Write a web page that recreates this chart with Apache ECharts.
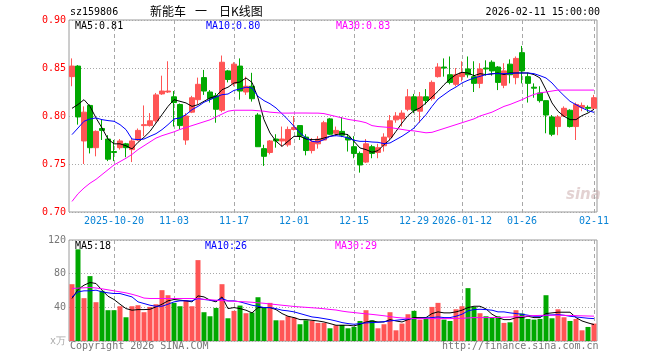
<!DOCTYPE html>
<html><head><meta charset="utf-8">
<script src="https://cdn.jsdelivr.net/npm/echarts/dist/echarts.min.js"></script>
<style>html,body{margin:0;padding:0;background:#fff}#c{width:660px;height:360px}</style>
</head><body><div id="c"></div><script>
const dates = ['10-09','10-10','10-13','10-14','10-15','10-16','10-17','10-20','10-21','10-22','10-23','10-24','10-27','10-28','10-29','10-30','10-31',
'11-03','11-04','11-05','11-06','11-07','11-10','11-11','11-12','11-13','11-14','11-17','11-18','11-19','11-20','11-21','11-24','11-25','11-26','11-27','11-28',
'12-01','12-02','12-03','12-04','12-05','12-08','12-09','12-10','12-11','12-12','12-15','12-16','12-17','12-18','12-19','12-22','12-23','12-24','12-25','12-26','12-29','12-30','12-31',
'01-05','01-06','01-07','01-08','01-09','01-12','01-13','01-14','01-15','01-16','01-19','01-20','01-21','01-22','01-23','01-26','01-27','01-28','01-29','01-30',
'02-02','02-03','02-04','02-05','02-06','02-09','02-10','02-11'];
const tickDates = ['10-20','11-03','11-17','12-01','12-15','12-29','01-12','01-26','02-11'];
const tickLabels = ['2025-10-20','11-03','11-17','12-01','12-15','12-29','2026-01-12','01-26','02-11'];

const open = [0.841,0.852,0.774,0.811,0.767,0.787,0.776,0.763,0.767,0.771,
0.765,0.775,0.790,0.790,0.795,0.823,0.825,0.820,0.812,0.775,
0.804,0.817,0.840,0.825,0.821,0.806,0.847,0.834,0.852,0.825,
0.831,0.801,0.766,0.762,0.776,0.774,0.770,0.786,0.790,0.778,
0.764,0.771,0.775,0.797,0.782,0.784,0.778,0.768,0.761,0.752,
0.768,0.762,0.769,0.778,0.796,0.797,0.807,0.820,0.805,0.820,
0.818,0.841,0.851,0.843,0.833,0.841,0.849,0.841,0.834,0.850,
0.856,0.851,0.832,0.854,0.840,0.866,0.841,0.830,0.824,0.816,
0.799,0.789,0.800,0.806,0.789,0.809,0.809,0.808];
const close = [0.852,0.799,0.804,0.767,0.784,0.785,0.755,0.762,0.774,0.767,
0.774,0.785,0.791,0.795,0.822,0.826,0.826,0.814,0.790,0.800,
0.819,0.833,0.826,0.818,0.807,0.856,0.838,0.854,0.826,0.831,
0.818,0.768,0.758,0.774,0.774,0.776,0.786,0.788,0.779,0.764,
0.773,0.776,0.793,0.781,0.785,0.780,0.775,0.761,0.749,0.771,
0.761,0.767,0.778,0.795,0.800,0.803,0.820,0.806,0.820,0.816,
0.835,0.851,0.850,0.835,0.843,0.845,0.843,0.834,0.849,0.849,
0.847,0.835,0.847,0.843,0.860,0.847,0.834,0.829,0.816,0.801,
0.781,0.799,0.808,0.789,0.812,0.811,0.808,0.819];
const low = [0.831,0.791,0.750,0.761,0.758,0.775,0.753,0.753,0.765,0.757,
0.752,0.774,0.779,0.789,0.793,0.822,0.824,0.789,0.786,0.770,
0.803,0.812,0.822,0.814,0.793,0.804,0.835,0.831,0.817,0.822,
0.815,0.768,0.748,0.760,0.767,0.768,0.768,0.785,0.775,0.759,
0.761,0.766,0.775,0.780,0.779,0.778,0.763,0.756,0.741,0.751,
0.756,0.756,0.763,0.775,0.793,0.789,0.805,0.803,0.793,0.812,
0.816,0.840,0.841,0.833,0.831,0.836,0.840,0.825,0.829,0.842,
0.842,0.827,0.829,0.834,0.833,0.834,0.814,0.819,0.814,0.782,
0.779,0.780,0.799,0.788,0.775,0.805,0.804,0.807];
const high = [0.860,0.853,0.810,0.812,0.785,0.796,0.780,0.775,0.776,0.772,
0.777,0.787,0.811,0.803,0.824,0.842,0.857,0.826,0.813,0.803,
0.821,0.840,0.848,0.827,0.824,0.863,0.848,0.856,0.860,0.841,
0.845,0.803,0.770,0.775,0.781,0.789,0.789,0.800,0.790,0.781,
0.777,0.779,0.795,0.798,0.789,0.799,0.781,0.779,0.763,0.776,
0.770,0.771,0.782,0.801,0.804,0.806,0.828,0.823,0.825,0.828,
0.837,0.855,0.860,0.862,0.850,0.857,0.862,0.857,0.855,0.858,
0.858,0.852,0.855,0.859,0.862,0.873,0.845,0.834,0.831,0.816,
0.801,0.801,0.810,0.807,0.814,0.814,0.811,0.822];

const ma5 = [0.808,0.812,0.817,0.810,0.798,0.7875,0.776,0.771,0.771,0.769,
0.7657,0.7726,0.7778,0.784,0.7927,0.8014,0.810,0.817,0.8153,0.8136,
0.810,0.8118,0.8153,0.8188,0.8205,0.8274,0.830,0.8344,0.8354,0.8396,
0.835,0.8188,0.7962,0.7823,0.7737,0.7684,0.7736,0.7788,0.7788,0.776,
0.7754,0.7754,0.7771,0.7788,0.7806,0.7816,0.7806,0.7736,0.7667,0.765,
0.7622,0.7639,0.7702,0.7754,0.784,0.7927,0.8004,0.8056,0.8084,0.8136,
0.8198,0.8257,0.8326,0.8385,0.8431,0.8455,0.8448,0.842,0.8441,0.8431,
0.8438,0.8448,0.8431,0.8448,0.8448,0.8448,0.8448,0.8431,0.8396,0.8274,
0.8136,0.8049,0.7997,0.7962,0.7962,0.8004,0.8031,0.807];
const ma10 = [0.7806,0.7875,0.7945,0.7969,0.798,0.7962,0.7952,0.7945,0.791,0.7858,
0.776,0.7754,0.776,0.7789,0.7816,0.7858,0.791,0.7969,0.798,0.8014,
0.8066,0.810,0.8143,0.817,0.8198,0.8222,0.8229,0.8267,0.8281,0.830,
0.8292,0.8205,0.816,0.8128,0.8084,0.8024,0.7962,0.7892,0.7823,0.7771,
0.7736,0.7729,0.7754,0.7788,0.7795,0.7788,0.7771,0.7747,0.7736,0.7736,
0.7729,0.7726,0.7712,0.7719,0.7754,0.7789,0.783,0.7875,0.7945,0.8014,
0.810,0.8177,0.8222,0.8267,0.8302,0.8344,0.8372,0.8396,0.8413,0.8431,
0.8441,0.8441,0.8441,0.8441,0.8448,0.8448,0.8448,0.8441,0.842,0.8396,
0.8344,0.8274,0.8212,0.8153,0.8118,0.8084,0.8056,0.8038];
const ma30 = [0.711,0.719,0.725,0.730,0.734,0.739,0.744,0.749,0.7525,0.756,
0.760,0.765,0.769,0.773,0.777,0.7795,0.7815,0.7835,0.786,0.788,
0.790,0.792,0.794,0.796,0.799,0.802,0.805,0.806,0.806,0.806,
0.806,0.8055,0.805,0.804,0.8035,0.803,0.803,0.8031,0.8031,0.8031,
0.803,0.803,0.8025,0.801,0.7995,0.798,0.7965,0.7955,0.7945,0.793,
0.790,0.789,0.7885,0.788,0.787,0.786,0.785,0.7845,0.7835,0.7825,
0.783,0.785,0.787,0.789,0.791,0.793,0.795,0.797,0.800,0.802,
0.804,0.807,0.810,0.812,0.8145,0.817,0.820,0.8225,0.824,0.825,
0.826,0.827,0.827,0.827,0.827,0.827,0.827,0.827];

const volume = [67.5,108.9,50.9,77.1,46.1,59.6,36.6,36.6,41.3,28.2,
41.3,42.5,34.2,40.5,43.7,60.4,54.4,45.3,41.3,48.5,
41.3,96.1,34.2,29.4,39.3,67.5,27.0,35.8,42.1,33.0,
33.8,52.0,40.1,45.3,24.6,24.6,29.4,27.8,19.9,24.6,
23.8,21.5,21.5,15.1,18.7,19.1,15.1,16.7,23.8,36.6,
24.6,15.1,19.9,34.2,12.7,20.7,31.8,35.8,25.4,27.8,
40.5,45.3,25.4,23.8,37.7,41.3,62.8,40.5,33.0,29.4,
27.8,29.4,21.5,22.2,36.6,32.6,26.2,25.4,26.2,54.4,
27.0,37.7,28.2,23.8,26.2,12.7,16.7,20.7];
const vma5 = [50.5,61.2,66.3,69.5,68.3,60.4,53.2,49.3,43.7,38.5,
36.6,37.3,37.3,37.7,40.5,43.7,47.7,49.3,48.5,47.7,
46.5,53.6,52.4,48.5,46.5,52.4,38.5,39.7,38.5,36.6,
33.4,39.7,39.7,39.7,37.3,32.6,29.4,27.8,25.4,25.4,
24.6,23.8,22.6,20.7,18.7,18.7,18.7,17.9,19.9,22.6,
23.8,22.6,22.6,25.4,23.8,22.6,25.4,27.8,27.8,27.8,
32.6,34.6,33.4,33.4,34.6,36.6,39.7,41.3,41.3,38.1,
31.8,27.8,25.4,25.4,27.8,27.8,29.4,27.8,27.8,32.6,
33.4,34.2,34.2,34.2,27.8,23.8,21.5,19.5];
const vma10 = [52.4,58.4,59.6,59.6,60.4,58.4,57.2,56.4,56.4,54.4,
52.4,46.5,44.5,42.5,41.3,41.3,43.7,46.5,47.7,47.7,
47.7,50.5,49.3,48.5,47.7,50.5,47.7,47.7,46.5,44.5,
42.5,41.3,39.7,39.7,38.5,36.6,35.8,34.6,32.6,30.6,
28.6,27.8,26.6,25.4,23.8,21.9,20.7,19.9,20.7,21.5,
21.9,22.2,23.0,23.8,24.6,25.4,26.2,26.6,27.0,27.4,
27.8,28.6,27.8,27.8,29.4,31.8,35.8,37.3,37.7,37.3,
36.6,34.6,34.6,33.4,32.6,31.8,30.6,29.4,29.4,30.6,
31.0,31.4,30.6,29.4,28.6,27.8,27.0,26.6];
const vma30 = [62.4,62.8,63.2,63.6,63.0,62.0,60.8,59.6,58.4,57.2,
55.5,53.5,51.0,50.5,50.5,50.5,50.5,50.5,50.5,50.5,
50.5,50.0,49.5,49.0,48.5,48.0,47.5,47.2,46.8,46.5,
46.0,45.4,44.8,44.0,43.3,42.5,41.8,41.0,40.5,40.0,
39.5,39.0,38.3,37.5,36.8,35.5,34.5,33.8,33.0,32.3,
31.6,30.8,30.0,29.0,28.0,27.4,27.0,26.6,26.6,26.6,
26.6,26.6,26.6,26.6,26.8,27.0,27.4,27.8,27.8,27.8,
27.9,28.0,28.2,28.5,28.8,29.2,29.8,30.2,30.4,30.6,
30.6,30.6,30.5,30.3,30.1,29.9,29.7,29.5];

const priceLegend = ['MA5:0.81','MA10:0.80','MA30:0.83'];
const volLegend = ['MA5:18','MA10:26','MA30:29'];

const RED = '#ff5555', GREEN = '#00a800';
const MONO = '"DejaVu Sans Mono","Liberation Mono",monospace';
const CJK = '12px "Noto Sans CJK SC"';
const GRIDC = '#a8a8a8';

const candleData = open.map((o, i) => [o, close[i], low[i], high[i]]);
const volData = volume.map((v, i) => ({value: v, itemStyle: {color: close[i] >= open[i] ? RED : GREEN}}));
const isTick = (idx, val) => tickDates.indexOf(val) >= 0;

function xAx(gi, showLabel) {
  return {
    type: 'category', gridIndex: gi, data: dates, boundaryGap: true,
    axisLine: {show: false}, axisTick: {show: false},
    axisLabel: {show: showLabel, interval: isTick, margin: 4, color: '#0a84d6',
      fontFamily: MONO, fontSize: 10,
      formatter: v => tickLabels[tickDates.indexOf(v)] || ''},
    splitLine: {show: true, interval: isTick, alignWithLabel: true,
      lineStyle: {color: GRIDC, type: [4, 3], width: 1}}
  };
}
function line(name, data, color, xi) {
  return {type: 'line', name, data, xAxisIndex: xi, yAxisIndex: xi, symbol: 'none',
    smooth: false, silent: true, lineStyle: {color, width: 1}, z: 5};
}
function txt(text, left, top, color, font) {
  return {type: 'text', left, top, style: {text, fill: color, font: font || ('10px ' + MONO)}};
}

const chart = echarts.init(document.getElementById('c'), null, {renderer: 'canvas'});
chart.setOption({
  animation: false,
  backgroundColor: '#fff',
  grid: [
    {left: 69, top: 20, width: 528, height: 192, show: true, borderColor: '#9a9a9a', borderWidth: 1},
    {left: 69, top: 240, width: 528, height: 101, show: true, borderColor: '#9a9a9a', borderWidth: 1}
  ],
  xAxis: [xAx(0, true), xAx(1, false)],
  yAxis: [
    {type: 'value', gridIndex: 0, min: 0.70, max: 0.90, interval: 0.05,
      axisLine: {show: false}, axisTick: {show: false},
      axisLabel: {color: '#ff0000', fontFamily: MONO, fontSize: 10, margin: 3, formatter: v => v.toFixed(2)},
      splitLine: {show: true, lineStyle: {color: GRIDC, type: [1, 2]}}},
    {type: 'value', gridIndex: 1, min: 0, max: 120, interval: 40,
      axisLine: {show: false}, axisTick: {show: false},
      axisLabel: {color: '#777', fontFamily: MONO, fontSize: 10, margin: 3,
        formatter: v => v === 0 ? '{u|x万}' : String(v),
        rich: {u: {color: '#aaa', fontSize: 10, fontFamily: MONO}}},
      splitLine: {show: true, lineStyle: {color: GRIDC, type: [1, 2]}}}
  ],
  series: [
    {type: 'candlestick', xAxisIndex: 0, yAxisIndex: 0, data: candleData, barWidth: 5,
      itemStyle: {color: RED, color0: GREEN, borderColor: RED, borderColor0: GREEN, borderWidth: 1}},
    line('MA5', ma5, '#000000', 0),
    line('MA10', ma10, '#0000ff', 0),
    line('MA30', ma30, '#ff00ff', 0),
    {type: 'bar', xAxisIndex: 1, yAxisIndex: 1, data: volData, barWidth: 5, silent: true},
    line('VMA5', vma5, '#000000', 1),
    line('VMA10', vma10, '#0000ff', 1),
    line('VMA30', vma30, '#ff00ff', 1)
  ],
  graphic: [
    txt('sz159806', 70, 7, '#000'),
    txt('新能车', 150, 5, '#000', CJK),
    txt('一', 195, 5, '#000', CJK),
    txt('日K线图', 219, 5, '#000', CJK),
    {type: 'text', right: 60, top: 7, style: {text: '2026-02-11 15:00:00', fill: '#000', font: '10px ' + MONO}},
    txt(priceLegend[0], 75, 21, '#000'),
    txt(priceLegend[1], 206, 21, '#0000ff'),
    txt(priceLegend[2], 336, 21, '#ff00ff'),
    txt(volLegend[0], 75, 241, '#000'),
    txt(volLegend[1], 205, 241, '#0000ff'),
    txt(volLegend[2], 335, 241, '#ff00ff'),
    txt('Copyright 2026 SINA.COM', 70, 341, '#777'),
    txt('http://finance.sina.com.cn', 442, 341, '#777'),
    {type: 'text', left: 566, top: 188, z: 0, style: {text: 'sina', fill: 'rgba(200,165,165,0.5)',
      font: 'italic bold 15px "DejaVu Sans"'}}
  ]
});
</script></body></html>
